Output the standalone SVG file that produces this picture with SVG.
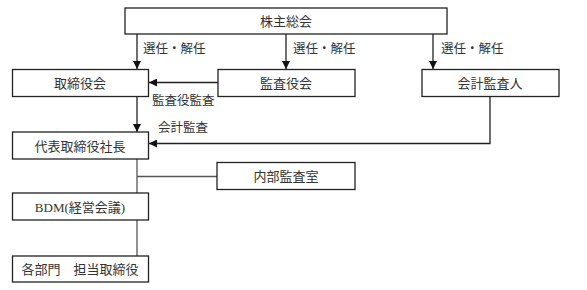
<svg xmlns="http://www.w3.org/2000/svg" width="587" height="290" viewBox="0 0 587 290">
<style>
.box{fill:#fff;stroke:#222;stroke-width:1.3}
.t{font-family:"Liberation Serif","Noto Sans CJK JP",serif;font-size:13px;fill:#333;text-anchor:middle;dominant-baseline:central}
.l{font-family:"Liberation Serif","Noto Sans CJK JP",serif;font-size:12.5px;fill:#333;dominant-baseline:central}
.c{fill:none;stroke:#222;stroke-width:1.3}
.g{fill:none;stroke:#555;stroke-width:1.3}
</style>
<defs>
<marker id="ah" markerWidth="8" markerHeight="8" viewBox="0 0 8 8" refX="8" refY="4" orient="auto" markerUnits="userSpaceOnUse">
<path d="M0,0 L8,4 L0,8 Z" fill="#111"/>
</marker>
</defs>
<rect width="587" height="290" fill="#fff"/>
<g id="connectors">
<line class="c" x1="137" y1="34" x2="137" y2="69" marker-end="url(#ah)"/>
<line class="c" x1="286" y1="34" x2="286" y2="69" marker-end="url(#ah)"/>
<line class="c" x1="433" y1="34" x2="433" y2="69" marker-end="url(#ah)"/>
<line class="c" x1="218" y1="82.5" x2="149" y2="82.5" marker-end="url(#ah)"/>
<line class="c" x1="137" y1="97" x2="137" y2="132" marker-end="url(#ah)"/>
<polyline class="c" points="490,97 490,143.5 149,143.5" marker-end="url(#ah)"/>
<line class="g" x1="137" y1="159" x2="137" y2="193"/>
<line class="g" x1="137" y1="176.5" x2="217" y2="176.5"/>
<line class="g" x1="137" y1="220" x2="137" y2="256"/>
<text class="l" x="143" y="49">選任・解任</text>
<text class="l" x="293" y="49">選任・解任</text>
<text class="l" x="441" y="49">選任・解任</text>
<text class="l" x="152" y="101">監査役監査</text>
<text class="l" x="158" y="128">会計監査</text>
</g>
<g id="n1"><rect class="box" x="125" y="8" width="322" height="26"/><text class="t" x="286" y="21">株主総会</text></g>
<g id="n2"><rect class="box" x="12.5" y="69.5" width="136" height="27"/><text class="t" x="80" y="83">取締役会</text></g>
<g id="n3"><rect class="box" x="218" y="69.5" width="137" height="27"/><text class="t" x="286" y="83">監査役会</text></g>
<g id="n4"><rect class="box" x="422" y="69.5" width="137" height="27"/><text class="t" x="490" y="83">会計監査人</text></g>
<g id="n5"><rect class="box" x="12.5" y="132" width="136" height="27"/><text class="t" x="80" y="146">代表取締役社長</text></g>
<g id="n6"><rect class="box" x="217" y="162.5" width="138" height="27"/><text class="t" x="286" y="176">内部監査室</text></g>
<g id="n7"><rect class="box" x="12.5" y="193" width="136" height="27"/><text class="t" x="80" y="207">BDM(経営会議)</text></g>
<g id="n8"><rect class="box" x="12.5" y="256" width="136" height="26"/><text class="t" x="80" y="269">各部門　担当取締役</text></g>
</svg>
